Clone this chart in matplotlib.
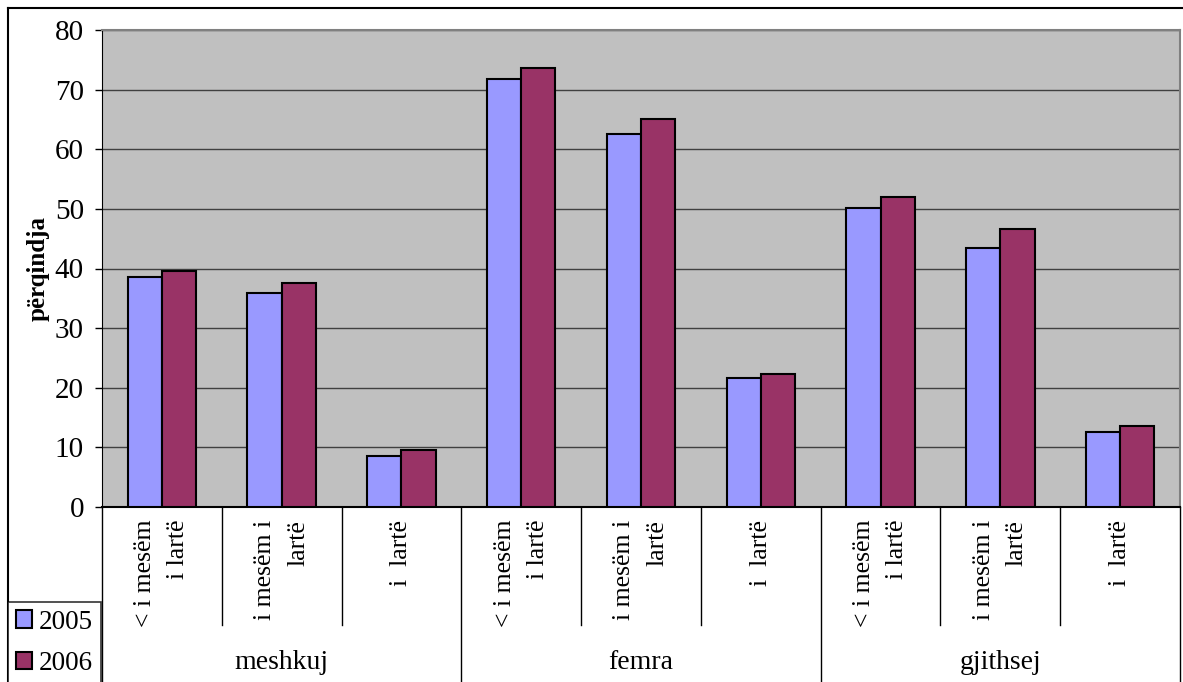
import numpy as np
import matplotlib
matplotlib.use("Agg")
import matplotlib.pyplot as plt
from matplotlib.lines import Line2D
from matplotlib.patches import Patch

plt.rcParams['font.family'] = ['Liberation Serif', 'DejaVu Serif']

# data
groups = ["meshkuj", "femra", "gjithsej"]
levels = ["< i mesëm\ni lartë", "i mesëm i\nlartë", "i  lartë"]
years = ["2005", "2006"]
vals_2005 = [38.6, 35.9, 8.6, 71.7, 62.6, 21.6, 50.1, 43.4, 12.6]
vals_2006 = [39.6, 37.6, 9.6, 73.6, 65.0, 22.3, 52.0, 46.7, 13.6]
colors = ["#9999FF", "#993366"]

W, H = 1183, 682
fig = plt.figure(figsize=(W / 100, H / 100), dpi=100)
ax = fig.add_axes([102 / W, 1 - 507 / H, (1180 - 102) / W, 477 / H])

n = len(vals_2005)
x = np.arange(n)
bw = 1 / 3.5
ax.bar(x - bw / 2, vals_2005, bw, color=colors[0], edgecolor="black", linewidth=1.5, zorder=3)
ax.bar(x + bw / 2, vals_2006, bw, color=colors[1], edgecolor="black", linewidth=1.5, zorder=3)

ax.set_facecolor("#C0C0C0")
ax.set_xlim(-0.5, n - 0.5)
ax.set_ylim(0, 80)
ax.set_yticks(range(0, 81, 10))
ax.tick_params(axis="y", labelsize=21, length=5, width=1, direction="out", pad=8)
ax.set_xticks([])
ax.grid(axis="y", color="#404040", linewidth=1, zorder=1)
for s in ["top", "right"]:
    ax.spines[s].set_color("#808080")
    ax.spines[s].set_linewidth(1.5)
ax.spines["left"].set_color("black")
ax.spines["bottom"].set_color("black")
ax.spines["bottom"].set_linewidth(1.5)
ax.set_ylabel("përqindja", fontsize=18, fontweight="bold", labelpad=4)

# category separators and labels below the axis
tr = ax.get_xaxis_transform()
for i in range(n + 1):
    edge = i - 0.5
    low = -0.40 if i % 3 == 0 else -0.247
    ax.add_line(Line2D([edge, edge], [0, low], transform=tr, color="black",
                       linewidth=1, clip_on=False))
for i, lab in enumerate(levels * len(groups)):
    ax.text(i, -0.027, lab, transform=tr, rotation=90, ha="center", va="top",
            multialignment="right", fontsize=18.5, linespacing=1.65)
for g, name in enumerate(groups):
    ax.text(g * 3 + 1, -0.325, name, transform=tr, ha="center", va="center",
            fontsize=20)

# outer chart border (left and top visible)
fig.add_artist(Line2D([8 / W, 8 / W], [0, 1 - 8 / H], color="black", linewidth=1.5))
fig.add_artist(Line2D([8 / W, 1], [1 - 8 / H, 1 - 8 / H], color="black", linewidth=1.5))

handles = [Patch(facecolor=c, edgecolor="black", linewidth=1.5) for c in colors]
leg = fig.legend(handles, years, loc="lower left", bbox_to_anchor=(8 / W, -2 / H),
                 fontsize=19.5, frameon=True, fancybox=False, handlelength=0.6,
                 handleheight=0.6, handletextpad=0.25, borderpad=0.3,
                 labelspacing=0.6, borderaxespad=0)
leg.get_frame().set_edgecolor("black")
leg.get_frame().set_linewidth(1.2)

fig.savefig("out.png", dpi=100)
